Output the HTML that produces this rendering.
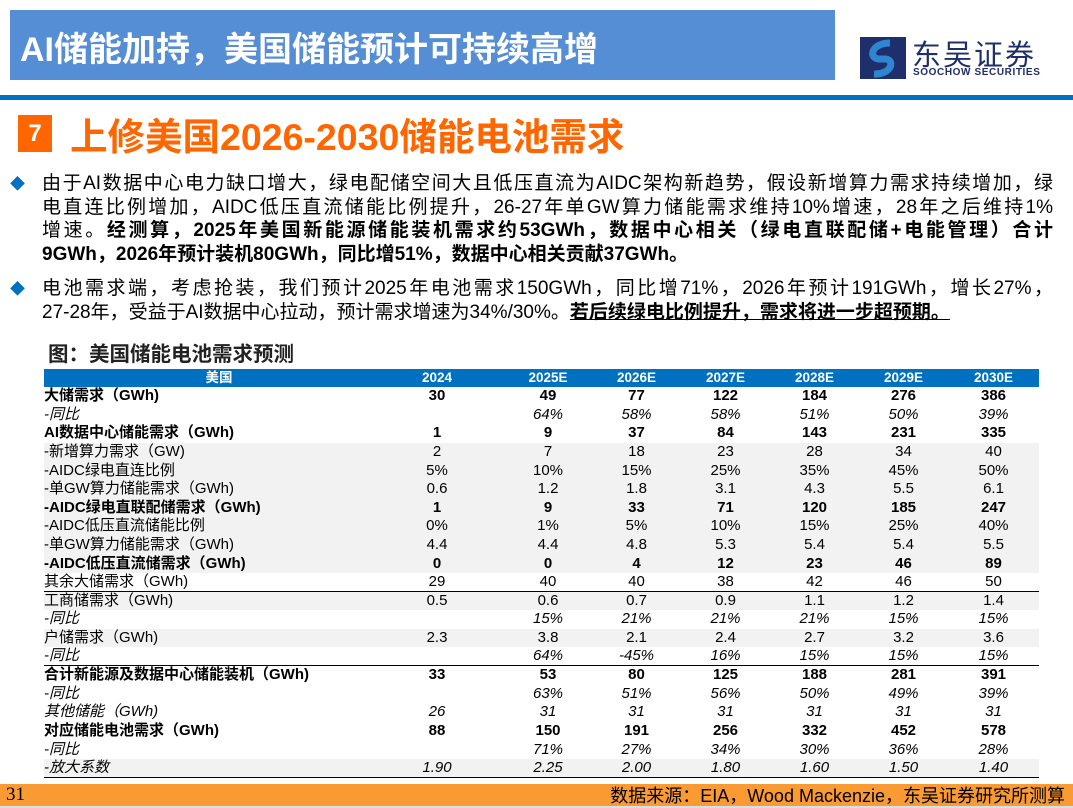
<!DOCTYPE html>
<html><head><meta charset="utf-8">
<style>
*{margin:0;padding:0;box-sizing:border-box}
body{width:1073px;height:808px;position:relative;background:#fff;font-family:"Liberation Sans","Noto Sans CJK SC",sans-serif;overflow:hidden;color:#000}
.abs{position:absolute}
#title-bar{left:10px;top:10px;width:825px;height:70px;background:#558ED5}
#title-bar span{position:absolute;left:10px;top:12px;font-size:34px;font-weight:bold;color:#fff;white-space:nowrap}
#rule{left:0;top:95px;width:1073px;height:5px;background:#0070C0}
#num{left:18px;top:115px;width:34px;height:37px;background:#FF6600;color:#fff;font-weight:bold;font-size:24px;text-align:center;line-height:37px}
#sec{left:70px;top:106px;font-size:37.5px;font-weight:bold;color:#FF6600;white-space:nowrap}
.p{left:42px;font-size:19px;width:1011px}
.p div{height:23.7px;line-height:23.7px;white-space:nowrap}
.p div.j{text-align:justify;text-align-last:justify;white-space:normal;overflow:hidden}
.dia{left:10px;color:#0070C0;font-size:15px}
#cap{left:48px;top:337px;font-size:20.5px;font-weight:bold;color:#222}
table{position:absolute;left:44px;top:369px;width:995px;border-collapse:collapse;font-size:15px;table-layout:fixed}
td{height:18.6px;line-height:18px;padding:0;text-align:center;white-space:nowrap}
td:first-child{text-align:left}
td:nth-child(3){padding-left:24px}
thead td{background:#0070C0;color:#fff;font-weight:bold;height:17px;font-size:13.5px}
thead td:first-child{text-align:center}
.b td{font-weight:bold}
.i td{font-style:italic}
.g td{background:#F2F2F2}
.t td{border-top:1.5px solid #000}
.bt td{border-bottom:1.5px solid #000}
#foot{left:0;top:784px;width:1073px;height:22px;background:#F99A33}
#foot-strip{left:0;top:806px;width:1073px;height:2px;background:#D6E0E8}
</style></head><body>
<div id="title-bar" class="abs"><span>AI储能加持，美国储能预计可持续高增</span></div>
<div class="abs" style="left:860px;top:37px;width:190px;height:44px">
<svg width="46" height="42" viewBox="0 0 46 42"><rect width="46" height="42" fill="#1F2F6B"/><path d="M30 6 C12 6 8 20 18 22 L26 22 C36 24 30 38 14 37" stroke="#2E86D1" stroke-width="7" fill="none"/></svg>
<div class="abs" style="left:52px;top:-5px;font-size:29px;color:#1F2F6B;letter-spacing:2px">东吴证券</div>
<div class="abs" style="left:53px;top:30px;font-size:10px;font-weight:bold;color:#1F2F6B;white-space:nowrap;letter-spacing:0.6px">SOOCHOW SECURITIES</div>
</div>
<div id="rule" class="abs"></div>
<div id="num" class="abs">7</div>
<div id="sec" class="abs">上修美国2026-2030储能电池需求</div>
<div class="abs dia" style="top:173px">◆</div>
<div class="abs p" style="top:172px">
<div class="j">由于AI数据中心电力缺口增大，绿电配储空间大且低压直流为AIDC架构新趋势，假设新增算力需求持续增加，绿</div>
<div class="j">电直连比例增加，AIDC低压直流储能比例提升，26-27年单GW算力储能需求维持10%增速，28年之后维持1%</div>
<div class="j">增速。<b>经测算，2025年美国新能源储能装机需求约53GWh，数据中心相关（绿电直联配储+电能管理）合计</b></div>
<div><b>9GWh，2026年预计装机80GWh，同比增51%，数据中心相关贡献37GWh。</b></div>
</div>
<div class="abs dia" style="top:278px">◆</div>
<div class="abs p" style="top:277px">
<div class="j">电池需求端，考虑抢装，我们预计2025年电池需求150GWh，同比增71%，2026年预计191GWh，增长27%，</div>
<div>27-28年，受益于AI数据中心拉动，预计需求增速为34%/30%。<b style="text-decoration:underline">若后续绿电比例提升，需求将进一步超预期。</b></div>
</div>
<div id="cap" class="abs">图：美国储能电池需求预测</div>
<table>
<colgroup><col style="width:350px"><col style="width:86px"><col style="width:112px"><col style="width:89px"><col style="width:89px"><col style="width:89px"><col style="width:89px"><col style="width:91px"></colgroup>
<thead><tr><td>美国</td><td>2024</td><td>2025E</td><td>2026E</td><td>2027E</td><td>2028E</td><td>2029E</td><td>2030E</td></tr></thead>
<tbody>
<tr class="b"><td>大储需求（GWh)</td><td>30</td><td>49</td><td>77</td><td>122</td><td>184</td><td>276</td><td>386</td></tr>
<tr class="i"><td>-同比</td><td></td><td>64%</td><td>58%</td><td>58%</td><td>51%</td><td>50%</td><td>39%</td></tr>
<tr class="b"><td>AI数据中心储能需求（GWh)</td><td>1</td><td>9</td><td>37</td><td>84</td><td>143</td><td>231</td><td>335</td></tr>
<tr class="g"><td>-新增算力需求（GW)</td><td>2</td><td>7</td><td>18</td><td>23</td><td>28</td><td>34</td><td>40</td></tr>
<tr class="g"><td>-AIDC绿电直连比例</td><td>5%</td><td>10%</td><td>15%</td><td>25%</td><td>35%</td><td>45%</td><td>50%</td></tr>
<tr class="g"><td>-单GW算力储能需求（GWh)</td><td>0.6</td><td>1.2</td><td>1.8</td><td>3.1</td><td>4.3</td><td>5.5</td><td>6.1</td></tr>
<tr class="g b"><td>-AIDC绿电直联配储需求（GWh)</td><td>1</td><td>9</td><td>33</td><td>71</td><td>120</td><td>185</td><td>247</td></tr>
<tr class="g"><td>-AIDC低压直流储能比例</td><td>0%</td><td>1%</td><td>5%</td><td>10%</td><td>15%</td><td>25%</td><td>40%</td></tr>
<tr class="g"><td>-单GW算力储能需求（GWh)</td><td>4.4</td><td>4.4</td><td>4.8</td><td>5.3</td><td>5.4</td><td>5.4</td><td>5.5</td></tr>
<tr class="g b"><td>-AIDC低压直流储需求（GWh)</td><td>0</td><td>0</td><td>4</td><td>12</td><td>23</td><td>46</td><td>89</td></tr>
<tr><td>其余大储需求（GWh)</td><td>29</td><td>40</td><td>40</td><td>38</td><td>42</td><td>46</td><td>50</td></tr>
<tr class="g t"><td>工商储需求（GWh)</td><td>0.5</td><td>0.6</td><td>0.7</td><td>0.9</td><td>1.1</td><td>1.2</td><td>1.4</td></tr>
<tr class="i"><td>-同比</td><td></td><td>15%</td><td>21%</td><td>21%</td><td>21%</td><td>15%</td><td>15%</td></tr>
<tr class="g"><td>户储需求（GWh)</td><td>2.3</td><td>3.8</td><td>2.1</td><td>2.4</td><td>2.7</td><td>3.2</td><td>3.6</td></tr>
<tr class="i"><td>-同比</td><td></td><td>64%</td><td>-45%</td><td>16%</td><td>15%</td><td>15%</td><td>15%</td></tr>
<tr class="b t"><td>合计新能源及数据中心储能装机（GWh)</td><td>33</td><td>53</td><td>80</td><td>125</td><td>188</td><td>281</td><td>391</td></tr>
<tr class="i"><td>-同比</td><td></td><td>63%</td><td>51%</td><td>56%</td><td>50%</td><td>49%</td><td>39%</td></tr>
<tr class="i"><td>其他储能（GWh)</td><td>26</td><td>31</td><td>31</td><td>31</td><td>31</td><td>31</td><td>31</td></tr>
<tr class="b"><td>对应储能电池需求（GWh)</td><td>88</td><td>150</td><td>191</td><td>256</td><td>332</td><td>452</td><td>578</td></tr>
<tr class="i"><td>-同比</td><td></td><td>71%</td><td>27%</td><td>34%</td><td>30%</td><td>36%</td><td>28%</td></tr>
<tr class="i g bt"><td>-放大系数</td><td>1.90</td><td>2.25</td><td>2.00</td><td>1.80</td><td>1.60</td><td>1.50</td><td>1.40</td></tr>
</tbody></table>
<div id="foot" class="abs">
<span class="abs" style="left:6px;top:0;font-size:19px;font-family:'Liberation Serif',serif;line-height:22px">31</span>
<span class="abs" style="right:8px;top:0;font-size:18px;line-height:24px;white-space:nowrap">数据来源：EIA，Wood Mackenzie，东吴证券研究所测算</span>
</div>
<div id="foot-strip" class="abs"></div>
</body></html>
